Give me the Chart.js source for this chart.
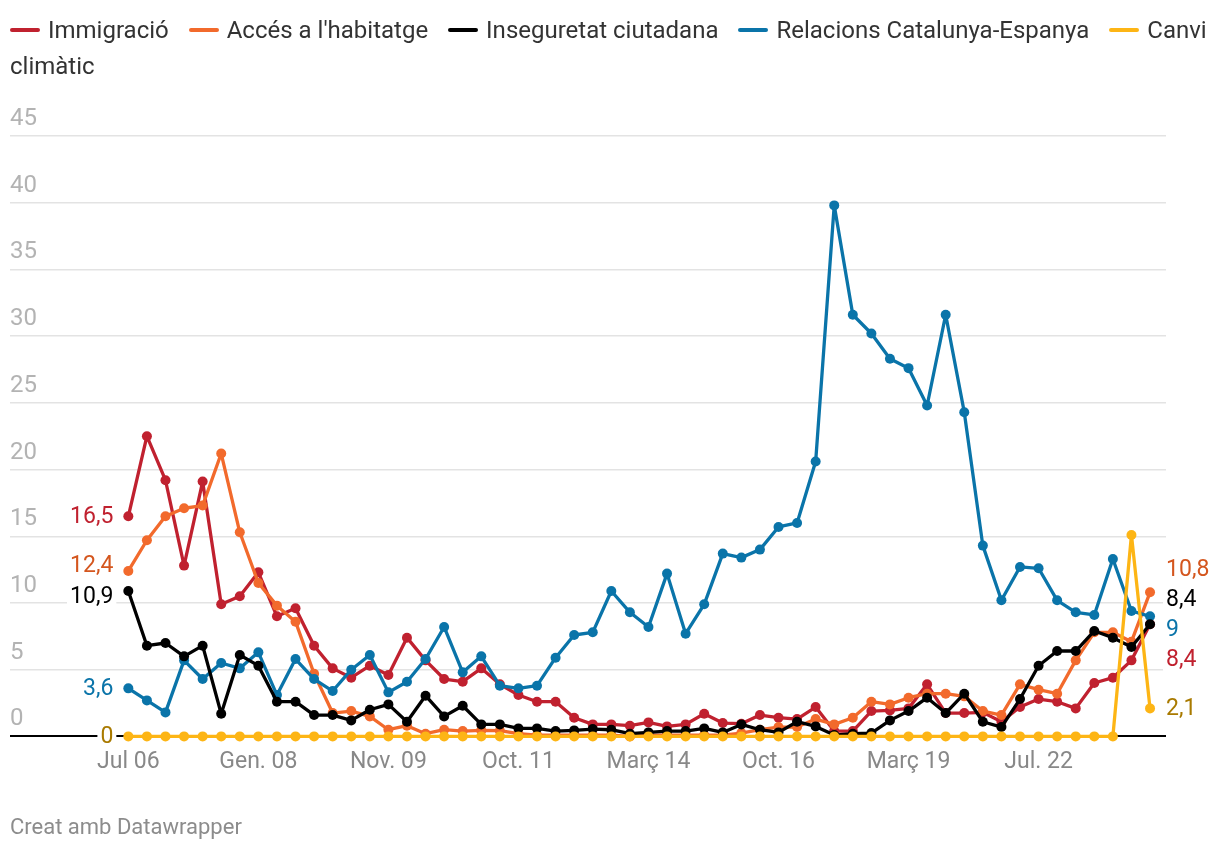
<!DOCTYPE html>
<html lang="ca">
<head>
<meta charset="utf-8">
<script src="https://cdn.jsdelivr.net/npm/chart.js@4.4.1/dist/chart.umd.min.js"></script>
<style>
  html, body { margin: 0; padding: 0; background: #fff; }
  body { width: 1220px; height: 854px; position: relative; overflow: hidden; font-family: Roboto, "Noto Sans", sans-serif; }
  #llegenda { position: absolute; left: 10px; top: 12px; width: 1200px; font-size: 24px; line-height: 36px; color: #333; }
  .item { margin-right: 14px; }
  .guio { display: inline-block; width: 30px; height: 4px; border-radius: 2px; margin-right: 8px; vertical-align: middle; position: relative; top: -2px; }
  #grafic { position: absolute; left: 0; top: 0; }
  #peu { position: absolute; left: 10px; top: 814px; font-size: 22px; color: #8c8c8c; }
</style>
</head>
<body>
<canvas id="grafic" width="1220" height="854"></canvas>
<div id="llegenda"></div>
<div id="peu">Creat amb Datawrapper</div>
<script>
// onades del baròmetre (només les que porten etiqueta a l'eix)
const categories = [
  'Jul 06', '', '', '', '', '', '',
  'Gen. 08', '', '', '', '', '', '',
  'Nov. 09', '', '', '', '', '', '',
  'Oct. 11', '', '', '', '', '', '',
  'Març 14', '', '', '', '', '', '',
  'Oct. 16', '', '', '', '', '', '',
  'Març 19', '', '', '', '', '', '',
  'Jul. 22', '', '', '', '', '', ''
];

const immigracio = [
  16.5, 22.5, 19.2, 12.8, 19.1, 9.9, 10.5, 12.3, 9.0, 9.6,
  6.8, 5.1, 4.4, 5.3, 4.6, 7.4, 5.7, 4.3, 4.1, 5.1,
  3.9, 3.1, 2.6, 2.6, 1.4, 0.9, 0.9, 0.8, 1.05, 0.75,
  0.9, 1.7, 1.0, 0.95, 1.6, 1.4, 1.3, 2.2, 0.4, 0.4,
  1.9, 1.95, 2.1, 3.9, 1.75, 1.75, 1.8, 1.1, 2.2, 2.8,
  2.6, 2.1, 4.0, 4.4, 5.7, 8.4
];
const habitatge = [
  12.4, 14.7, 16.5, 17.1, 17.3, 21.2, 15.3, 11.5, 9.8, 8.6,
  4.7, 1.75, 1.9, 1.5, 0.5, 0.8, 0.2, 0.5, 0.4, 0.45,
  0.43, 0.2, 0.1, 0.1, 0.1, 0.1, 0.1, 0.0, 0.1, 0.1,
  0.1, 0.1, 0.1, 0.25, 0.5, 0.7, 0.7, 1.3, 0.9, 1.4,
  2.6, 2.4, 2.9, 3.2, 3.2, 3.0, 1.9, 1.6, 3.9, 3.5,
  3.2, 5.7, 7.8, 7.8, 7.1, 10.8
];
const inseguretat = [
  10.9, 6.8, 7.0, 6.0, 6.8, 1.7, 6.1, 5.3, 2.6, 2.6,
  1.6, 1.6, 1.2, 2.0, 2.4, 1.1, 3.05, 1.5, 2.3, 0.9,
  0.9, 0.6, 0.6, 0.4, 0.45, 0.55, 0.5, 0.2, 0.3, 0.4,
  0.4, 0.6, 0.3, 0.9, 0.5, 0.3, 1.1, 0.75, 0.1, 0.2,
  0.25, 1.2, 1.9, 2.9, 1.75, 3.2, 1.1, 0.7, 2.8, 5.3,
  6.4, 6.4, 7.9, 7.4, 6.7, 8.4
];
const relacions = [
  3.6, 2.7, 1.8, 5.7, 4.3, 5.5, 5.1, 6.3, 3.1, 5.8,
  4.3, 3.4, 5.0, 6.1, 3.3, 4.1, 5.8, 8.2, 4.8, 6.0,
  3.8, 3.6, 3.8, 5.9, 7.6, 7.8, 10.9, 9.3, 8.2, 12.2,
  7.7, 9.9, 13.7, 13.4, 14.0, 15.7, 16.0, 20.6, 39.8, 31.6,
  30.2, 28.3, 27.6, 24.8, 31.6, 24.3, 14.3, 10.2, 12.7, 12.6,
  10.2, 9.3, 9.1, 13.3, 9.4, 9.0
];
const canviClimatic = [
  0, 0, 0, 0, 0, 0, 0, 0, 0, 0,
  0, 0, 0, 0, 0, 0, 0, 0, 0, 0,
  0, 0, 0, 0, 0, 0, 0, 0, 0, 0,
  0, 0, 0, 0, 0, 0, 0, 0, 0, 0,
  0, 0, 0, 0, 0, 0, 0, 0, 0, 0,
  0, 0, 0, 0, 15.1, 2.1
];

const noms = ['Immigració', "Accés a l'habitatge", 'Inseguretat ciutadana', 'Relacions Catalunya-Espanya', 'Canvi climàtic'];
const valors = [immigracio, habitatge, inseguretat, relacions, canviClimatic];
const colors = ['#c0212f', '#f26a2c', '#000000', '#0a74a9', '#fdb515'];
const colorsEtiq = ['#c0212f', '#d4561e', '#000000', '#0a74a9', '#a97a00'];
const ordreDibuix = [4, 3, 1, 2, 0];   // més baix = a sobre
const ordreDreta = [1, 2, 3, 0, 4];    // ordre de les etiquetes finals, de dalt a baix

// llegenda en html perquè faci salt de línia com l'original
const llegenda = document.getElementById('llegenda');
noms.forEach((nom, i) => {
  const item = document.createElement('span');
  item.className = 'item';
  const guio = document.createElement('span');
  guio.className = 'guio';
  guio.style.background = colors[i];
  item.appendChild(guio);
  item.appendChild(document.createTextNode(nom));
  llegenda.appendChild(item);
  llegenda.appendChild(document.createTextNode(' '));
});

const fmt = v => String(v).replace('.', ',');

function separa(llista, gap) {
  for (let it = 0; it < 300; it++) {
    let mogut = false;
    for (let i = 0; i < llista.length - 1; i++) {
      const d = llista[i + 1].y - llista[i].y;
      if (d < gap - 0.1) {
        const s = (gap - d) / 2;
        llista[i].y -= s;
        llista[i + 1].y += s;
        mogut = true;
      }
    }
    if (!mogut) break;
  }
}

const etiquetesExtrems = {
  id: 'etiquetesExtrems',
  afterDatasetsDraw(chart) {
    const ctx = chart.ctx;
    const sx = chart.scales.x, sy = chart.scales.y;
    const n = categories.length - 1;

    const esq = valors.map((serie, i) => ({ i, v: serie[0], y: sy.getPixelForValue(serie[0]) }));
    esq.sort((a, b) => a.y - b.y);
    separa(esq, 31);

    const dre = ordreDreta.map(i => ({ i, v: valors[i][n], y: sy.getPixelForValue(valors[i][n]) }));
    separa(dre, 30);

    ctx.save();
    ctx.font = '23px Roboto, "Noto Sans", sans-serif';
    ctx.textBaseline = 'middle';
    const pinta = (e, x, alinea) => {
      const txt = fmt(e.v);
      const w = ctx.measureText(txt).width;
      const x0 = alinea === 'right' ? x - w - 3 : x - 3;
      ctx.fillStyle = '#fff';
      ctx.fillRect(x0, e.y - 13, w + 6, 26);
      ctx.fillStyle = colorsEtiq[e.i];
      ctx.textAlign = alinea;
      ctx.fillText(txt, x, e.y + 1);
    };
    const xe = sx.getPixelForValue(0) - 15;
    esq.forEach(e => pinta(e, xe, 'right'));
    const xd = sx.getPixelForValue(n) + 16;
    dre.forEach(e => pinta(e, xd, 'left'));
    ctx.restore();
  }
};

const datasets = valors.map((serie, i) => ({
  label: noms[i],
  data: serie.map((v, k) => ({ x: k, y: v })),
  borderColor: colors[i],
  backgroundColor: colors[i],
  pointBackgroundColor: colors[i],
  borderWidth: 3.3,
  borderJoinStyle: 'round',
  pointRadius: 5,
  pointBorderWidth: 0,
  tension: 0,
  clip: false,
  order: ordreDibuix[i]
}));

new Chart(document.getElementById('grafic'), {
  type: 'line',
  data: { datasets },
  options: {
    responsive: false,
    animation: false,
    devicePixelRatio: 1,
    layout: { padding: { top: 136, left: 10, right: 54, bottom: 66 } },
    plugins: { legend: { display: false }, tooltip: { enabled: false } },
    scales: {
      x: {
        type: 'linear',
        min: -6.37,
        max: 55.86,
        grid: { display: false, drawTicks: false },
        border: { display: false },
        afterBuildTicks: axis => {
          axis.ticks = categories.map((c, k) => ({ value: k })).filter(t => categories[t.value] !== '');
        },
        ticks: {
          autoSkip: false,
          maxRotation: 0,
          padding: 12,
          color: '#888',
          font: { size: 23, family: 'Roboto' },
          callback: v => categories[v]
        }
      },
      y: {
        min: 0,
        max: 45,
        border: { display: false },
        grid: {
          drawTicks: false,
          color: c => c.tick.value === 0 ? '#000' : '#e3e3e3',
          lineWidth: c => c.tick.value === 0 ? 2 : 1.5
        },
        ticks: {
          stepSize: 5,
          mirror: true,
          padding: 0,
          labelOffset: -17,
          color: '#b3b3b3',
          font: { size: 24, family: 'Roboto' }
        }
      }
    }
  },
  plugins: [etiquetesExtrems]
});
</script>
</body>
</html>
